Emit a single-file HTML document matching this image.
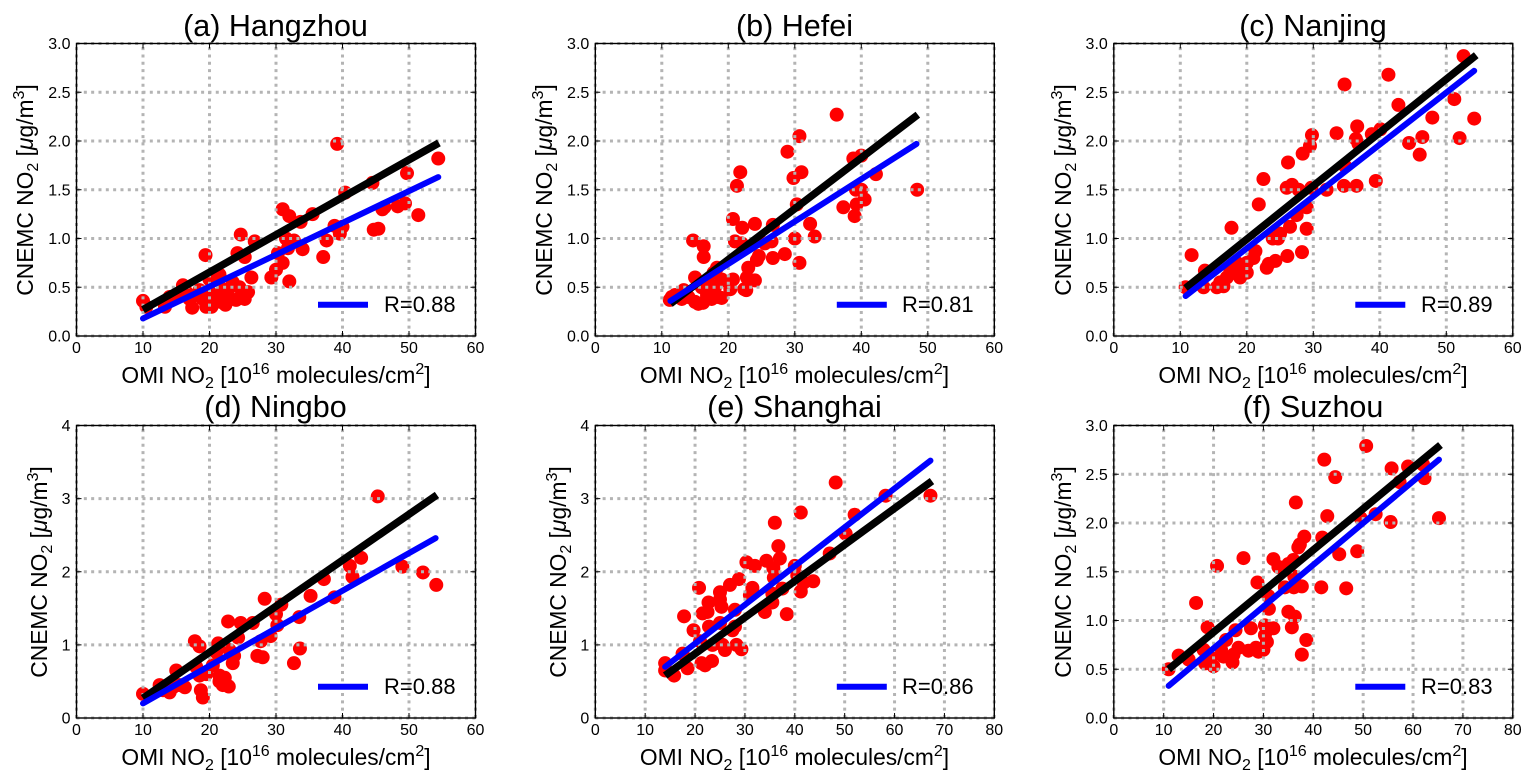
<!DOCTYPE html>
<html lang="en">
<head>
<meta charset="utf-8">
<title>CNEMC NO2 vs OMI NO2 scatter plots</title>
<style>
html,body{margin:0;padding:0;background:#fff;width:1534px;height:782px;overflow:hidden}
svg{display:block;font-family:"Liberation Sans",Arial,sans-serif;fill:#000}
.title{font-size:30.5px;text-anchor:middle}
.axlab{font-size:22.8px;text-anchor:middle}
.legtxt{font-size:22px}
.tick{font-size:16px}
</style>
</head>
<body>
<svg id="figure" width="1534" height="782" viewBox="0 0 1534 782" xmlns="http://www.w3.org/2000/svg">
  <rect width="1534" height="782" fill="#fff"/>

  <g id="panel-a"></g>
  <g id="panel-b"></g>
  <g id="panel-c"></g>
  <g id="panel-d"></g>
  <g id="panel-e"></g>
  <g id="panel-f"></g>

  <text class="title" x="275.5" y="36">(a) Hangzhou</text>
  <text class="title" x="794.5" y="36">(b) Hefei</text>
  <text class="title" x="1313" y="36">(c) Nanjing</text>
  <text class="title" x="275.5" y="417">(d) Ningbo</text>
  <text class="title" x="794.5" y="417">(e) Shanghai</text>
  <text class="title" x="1313" y="417">(f) Suzhou</text>

  <text class="axlab" x="276" y="383">OMI NO<tspan font-size="16" dy="5">2</tspan><tspan dy="-5"> [10</tspan><tspan font-size="16" dy="-9">16</tspan><tspan dy="9"> molecules/cm</tspan><tspan font-size="16" dy="-9">2</tspan><tspan dy="9">]</tspan></text>
  <text class="axlab" x="794.5" y="383">OMI NO<tspan font-size="16" dy="5">2</tspan><tspan dy="-5"> [10</tspan><tspan font-size="16" dy="-9">16</tspan><tspan dy="9"> molecules/cm</tspan><tspan font-size="16" dy="-9">2</tspan><tspan dy="9">]</tspan></text>
  <text class="axlab" x="1313" y="383">OMI NO<tspan font-size="16" dy="5">2</tspan><tspan dy="-5"> [10</tspan><tspan font-size="16" dy="-9">16</tspan><tspan dy="9"> molecules/cm</tspan><tspan font-size="16" dy="-9">2</tspan><tspan dy="9">]</tspan></text>
  <text class="axlab" x="276" y="765">OMI NO<tspan font-size="16" dy="5">2</tspan><tspan dy="-5"> [10</tspan><tspan font-size="16" dy="-9">16</tspan><tspan dy="9"> molecules/cm</tspan><tspan font-size="16" dy="-9">2</tspan><tspan dy="9">]</tspan></text>
  <text class="axlab" x="794.5" y="765">OMI NO<tspan font-size="16" dy="5">2</tspan><tspan dy="-5"> [10</tspan><tspan font-size="16" dy="-9">16</tspan><tspan dy="9"> molecules/cm</tspan><tspan font-size="16" dy="-9">2</tspan><tspan dy="9">]</tspan></text>
  <text class="axlab" x="1313" y="765">OMI NO<tspan font-size="16" dy="5">2</tspan><tspan dy="-5"> [10</tspan><tspan font-size="16" dy="-9">16</tspan><tspan dy="9"> molecules/cm</tspan><tspan font-size="16" dy="-9">2</tspan><tspan dy="9">]</tspan></text>

  <text class="axlab" transform="translate(33,190) rotate(-90)">CNEMC NO<tspan font-size="16" dy="5">2</tspan><tspan dy="-5"> [</tspan><tspan font-style="italic">μ</tspan><tspan>g/m</tspan><tspan font-size="16" dy="-9">3</tspan><tspan dy="9">]</tspan></text>
  <text class="axlab" transform="translate(552,190) rotate(-90)">CNEMC NO<tspan font-size="16" dy="5">2</tspan><tspan dy="-5"> [</tspan><tspan font-style="italic">μ</tspan><tspan>g/m</tspan><tspan font-size="16" dy="-9">3</tspan><tspan dy="9">]</tspan></text>
  <text class="axlab" transform="translate(1071,190) rotate(-90)">CNEMC NO<tspan font-size="16" dy="5">2</tspan><tspan dy="-5"> [</tspan><tspan font-style="italic">μ</tspan><tspan>g/m</tspan><tspan font-size="16" dy="-9">3</tspan><tspan dy="9">]</tspan></text>
  <text class="axlab" transform="translate(47,572) rotate(-90)">CNEMC NO<tspan font-size="16" dy="5">2</tspan><tspan dy="-5"> [</tspan><tspan font-style="italic">μ</tspan><tspan>g/m</tspan><tspan font-size="16" dy="-9">3</tspan><tspan dy="9">]</tspan></text>
  <text class="axlab" transform="translate(566,572) rotate(-90)">CNEMC NO<tspan font-size="16" dy="5">2</tspan><tspan dy="-5"> [</tspan><tspan font-style="italic">μ</tspan><tspan>g/m</tspan><tspan font-size="16" dy="-9">3</tspan><tspan dy="9">]</tspan></text>
  <text class="axlab" transform="translate(1071,572) rotate(-90)">CNEMC NO<tspan font-size="16" dy="5">2</tspan><tspan dy="-5"> [</tspan><tspan font-style="italic">μ</tspan><tspan>g/m</tspan><tspan font-size="16" dy="-9">3</tspan><tspan dy="9">]</tspan></text>

  <text class="legtxt" x="384" y="312">R=0.88</text>
  <text class="legtxt" x="902" y="312">R=0.81</text>
  <text class="legtxt" x="1421" y="312">R=0.89</text>
  <text class="legtxt" x="384" y="694">R=0.88</text>
  <text class="legtxt" x="902" y="694">R=0.86</text>
  <text class="legtxt" x="1421" y="694">R=0.83</text>
</svg>

<script>
var xTicks60 = [0,10,20,30,40,50,60];
var xTicks80 = [0,10,20,30,40,50,60,70,80];
var yTicks3 = [0,0.5,1,1.5,2,2.5,3];
var yTicks4 = [0,1,2,3,4];
var yLabels3 = ['0.0','0.5','1.0','1.5','2.0','2.5','3.0'];
var yLabels4 = ['0','1','2','3','4'];

var hangzhouX = [10,10.5,13.3,14,15,16,16.5,17,17.4,18,18.5,19,19.4,19.5,20,20,20.3,21,21.5,21.7,22,22.4,22.7,23,23.5,24,24.2,24.7,24.5,25,25.3,25.3,25.8,26.3,26.8,29.3,30,30.3,31,31,31.5,31.8,32,32,32.7,33.7,34,35.5,37.1,37.6,38.8,39.2,39.6,40,40.4,44.5,44.7,45.4,46,46.3,48.3,49.4,49.7,51.4,54.4];
var hangzhouY = [0.36,0.3,0.3,0.4,0.42,0.52,0.45,0.38,0.29,0.42,0.47,0.38,0.83,0.3,0.58,0.45,0.3,0.4,0.63,0.35,0.48,0.32,0.45,0.38,0.55,0.37,0.85,1.04,0.5,0.43,0.38,0.81,0.45,0.6,0.97,0.6,0.68,0.85,0.75,1.3,1,0.9,0.56,1.23,0.98,1.17,0.89,1.25,0.81,0.98,1.13,1.97,1.05,1.12,1.47,1.57,1.09,1.1,1.3,1.32,1.33,1.36,1.67,1.24,1.82];
var hangzhouFitX = [10,54.5];
var hangzhouBlackY = [0.27,1.98];
var hangzhouBlueX = [10,54.4];
var hangzhouBlueY = [0.18,1.63];

var hefeiX = [11.2,11.5,12,13,13.3,14,14.7,15,15,15.5,16,16.2,16.3,16.3,16.8,17,17.5,17.8,18,18.3,18.5,19,19,20,20.3,20.7,20.7,21,21.3,21.8,22,22.1,22.4,22.7,22.8,23,24,24,24.3,24.6,25.5,26.5,26.7,26.7,28.5,28.9,29.8,30,30.3,30.7,30.7,31,32.3,33,36.3,37.3,38.8,39,39.2,39.3,40,40,40.5,42.2,48.4];
var hefeiY = [0.37,0.4,0.42,0.38,0.47,0.4,0.98,0.6,0.35,0.33,0.5,0.34,0.92,0.81,0.42,0.55,0.38,0.65,0.5,0.7,0.4,0.58,0.39,0.55,0.48,0.58,1.2,0.97,1.54,1.68,0.95,1.11,0.48,0.47,0.6,0.7,1.15,0.57,0.78,0.82,0.95,0.97,0.8,1.14,0.84,1.89,1.62,1,1.35,2.05,0.75,1.68,1.15,1.02,2.27,1.32,1.82,1.23,1.5,1.35,1.85,1.5,1.4,1.66,1.5];
var hefeiFitX = [11.3,48.5];
var hefeiBlackY = [0.33,2.27];
var hefeiBlueX = [11.3,48.3];
var hefeiBlueY = [0.36,1.97];

var nanjingX = [10.8,11.7,13.5,13.7,15.5,16,16.5,17,17.5,17.7,18,18.5,19,19.5,20,20,21,21.3,21.8,22.5,23,23.3,24.3,23.9,24.7,25,26.1,26,26.2,26.5,26.8,27.5,27.8,28.3,28.4,29,29,29.5,29.8,29.7,32,33.5,34.6,34.7,34.8,36.5,36.4,36.6,36.8,38.8,39.4,40.1,41.3,42.8,44.4,46,46.4,47.9,51.2,52,52.6,54.2];
var nanjingY = [0.5,0.83,0.5,0.67,0.5,0.55,0.51,0.6,0.65,1.11,0.7,0.75,0.6,0.65,0.75,0.65,0.8,0.87,1.35,1.61,0.7,0.74,0.77,1,1,1.05,0.82,1.52,1.78,1.12,1.55,1.24,1.5,0.86,1.87,1.32,1.1,1.95,2.06,1.52,1.5,2.08,1.54,2.58,1.74,1.54,2.02,2.15,1.97,2.07,1.59,2.12,2.68,2.37,1.98,1.86,2.04,2.24,2.43,2.03,2.87,2.23];
var nanjingFitX = [10.8,54.5];
var nanjingBlackY = [0.49,2.88];
var nanjingBlueX = [10.8,54.2];
var nanjingBlueY = [0.41,2.72];

var ningboX = [10,12.5,13,14,14.5,15,15.5,16.3,17.8,18,18.5,18.5,18.7,19,19.5,20.5,21,21.3,21.5,21.5,22,22.3,22.8,22.9,23,23.5,23.7,24.3,24.7,26.5,27.2,27.7,28,28.3,29.2,30,30.2,30.8,32.7,33.5,33.6,35.2,37.2,38.8,41.1,41.5,42.8,45.3,49,52.1,54.1];
var ningboY = [0.33,0.45,0.38,0.35,0.42,0.65,0.45,0.42,1.05,0.7,0.98,0.58,0.38,0.28,0.6,0.72,0.9,1.02,0.58,0.5,0.45,0.55,1.32,0.43,0.93,0.75,0.85,1.1,1.3,1.3,0.85,1.05,0.83,1.63,1.12,1.42,1.27,1.55,0.75,1.38,0.95,1.67,1.9,1.65,2.08,1.93,2.19,3.03,2.07,1.99,1.82];
var ningboFitX = [10,54.2];
var ningboBlackY = [0.27,3.05];
var ningboBlueX = [10,54];
var ningboBlueY = [0.2,2.46];

var shanghaiX = [14,14,15.8,17.5,18.5,17.8,19.7,20.8,21,21.3,21.5,22,22.5,22.7,22.8,23.4,23.5,25,25,25,25.3,25.5,26,27,27.5,28,28,28.3,28.8,29.3,30.3,31,31.5,32,34,34.3,35.5,35.5,35.7,35.8,36,36.7,37,37.5,38.4,40,40.5,41.2,41.2,41.8,43.7,47,48.2,50.2,52,58.2,67.2];
var shanghaiY = [0.75,0.65,0.58,0.88,0.68,1.39,1.2,1.78,1.05,0.75,1.43,0.72,1.45,1.58,1.25,0.78,1,1.3,1.72,1.62,1.52,1,0.93,1.82,1.2,1.48,1.25,1,1.9,0.94,2.13,1.68,1.78,2.08,1.45,2.15,1.7,1.58,2.05,1.92,2.67,2.35,2.18,1.77,1.42,2.08,1.95,2.81,1.73,1.85,1.87,2.25,3.22,2.52,2.78,3.04,3.04];
var shanghaiFitX = [14,67.5];
var shanghaiBlackY = [0.58,3.24];
var shanghaiBlueX = [14,67.2];
var shanghaiBlueY = [0.7,3.52];

var suzhouX = [11,13,15,16.5,18,18.3,18.8,19.5,20,20.7,21.5,22,22.5,23.5,23.8,24,24.4,25,26,27,27.5,28.5,28.8,29,30,30.3,30.3,30.7,31,31.1,32,32,33,34.3,35,35,35.7,36,36.1,36.3,36.2,36.5,37,37.3,37.7,37.7,38.2,38.6,41.6,41.8,42.2,42.8,44.4,45.2,46.6,48.8,49.5,50.6,52.5,55.5,55.7,57.3,59,62,62.3,65.2];
var suzhouY = [0.5,0.64,0.6,1.18,0.7,0.56,0.93,0.62,0.53,1.56,0.7,0.63,0.8,0.62,0.57,0.65,0.9,0.72,1.64,0.69,0.92,0.72,1.39,0.68,0.7,0.95,0.85,0.78,1.25,1.12,0.92,1.63,1.55,1.34,1.58,1.09,0.93,1.62,1.34,1.04,1.45,2.21,1.75,1.78,1.35,0.65,1.86,0.8,1.34,1.85,2.65,2.07,2.47,1.68,1.33,1.71,2.05,2.79,2.09,2.01,2.56,2.42,2.58,2.6,2.46,2.05];
var suzhouFitX = [11,65.5];
var suzhouBlackY = [0.5,2.8];
var suzhouBlueX = [11,65.2];
var suzhouBlueY = [0.33,2.65];

var NS = 'http://www.w3.org/2000/svg';

function make(tag, attrs, parent) {
  var el = document.createElementNS(NS, tag);
  for (var k in attrs) el.setAttribute(k, attrs[k]);
  parent.appendChild(el);
  return el;
}

function drawPanel(cfg) {
  var g = document.getElementById(cfg.id);
  var L = cfg.left, R = cfg.left + 399, T = cfg.top, B = cfg.top + 292.5;
  var xMax = cfg.xTicks[cfg.xTicks.length - 1];
  var yMax = cfg.yTicks[cfg.yTicks.length - 1];
  function sx(v) { return L + v / xMax * (R - L); }
  function sy(v) { return B - v / yMax * (B - T); }

  cfg.x.forEach(function (v, i) {
    var c = make('circle', {cx: sx(v), cy: sy(cfg.y[i]), r: 7, fill: '#ff0000'}, g);
    
    
  });

  cfg.xTicks.forEach(function (t) {
    var l = make('line', {x1: sx(t), x2: sx(t), y1: B, y2: T, stroke: '#b4b4b4', 'stroke-width': 3, 'stroke-dasharray': '3 4.33'}, g);
    
    
  });
  cfg.yTicks.forEach(function (t) {
    var l = make('line', {x1: L, x2: R, y1: sy(t), y2: sy(t), stroke: '#b4b4b4', 'stroke-width': 3, 'stroke-dasharray': '3 4.33'}, g);
    
    
  });

  var black = make('line', {x1: sx(cfg.fitX[0]), x2: sx(cfg.fitX[1]), y1: sy(cfg.blackY[0]), y2: sy(cfg.blackY[1]), stroke: '#000', 'stroke-width': 7.5}, g);
  
  

  var blue = make('line', {x1: sx(cfg.blueX[0]), x2: sx(cfg.blueX[1]), y1: sy(cfg.blueY[0]), y2: sy(cfg.blueY[1]), stroke: '#0000ff', 'stroke-width': 6, 'stroke-linecap': 'round'}, g);
  
  

  var frame = make('rect', {x: L, y: T, width: R - L, height: B - T, fill: 'none', stroke: '#000', 'stroke-width': 1.4}, g);
  
  

  cfg.xTicks.forEach(function (t) {
    var b = make('line', {x1: sx(t), x2: sx(t), y1: B, y2: B - 5, stroke: '#000', 'stroke-width': 1}, g);
    
    
    var u = make('line', {x1: sx(t), x2: sx(t), y1: T, y2: T + 5, stroke: '#000', 'stroke-width': 1}, g);
    
    
    var lab = make('text', {x: sx(t), y: B + 17, 'text-anchor': 'middle', 'class': 'tick'}, g);
    
    
    lab.textContent = String(t);
  });
  cfg.yTicks.forEach(function (t, i) {
    var a = make('line', {x1: L, x2: L + 5, y1: sy(t), y2: sy(t), stroke: '#000', 'stroke-width': 1}, g);
    
    
    var r = make('line', {x1: R, x2: R - 5, y1: sy(t), y2: sy(t), stroke: '#000', 'stroke-width': 1}, g);
    
    
    var lab = make('text', {x: L - 6, y: sy(t) + 5.5, 'text-anchor': 'end', 'class': 'tick'}, g);
    
    
    lab.textContent = cfg.yLabels[i];
  });

  var key = make('line', {x1: L + 241.5, x2: L + 291.5, y1: B - 31.3, y2: B - 31.3, stroke: '#0000ff', 'stroke-width': 6}, g);
  
  
}

drawPanel({id:'panel-a', left:76.5, top:43.5, xTicks:xTicks60, yTicks:yTicks3, yLabels:yLabels3, x:hangzhouX, y:hangzhouY, fitX:hangzhouFitX, blackY:hangzhouBlackY, blueX:hangzhouBlueX, blueY:hangzhouBlueY});
drawPanel({id:'panel-b', left:595.3, top:43.5, xTicks:xTicks60, yTicks:yTicks3, yLabels:yLabels3, x:hefeiX, y:hefeiY, fitX:hefeiFitX, blackY:hefeiBlackY, blueX:hefeiBlueX, blueY:hefeiBlueY});
drawPanel({id:'panel-c', left:1113.8, top:43.5, xTicks:xTicks60, yTicks:yTicks3, yLabels:yLabels3, x:nanjingX, y:nanjingY, fitX:nanjingFitX, blackY:nanjingBlackY, blueX:nanjingBlueX, blueY:nanjingBlueY});
drawPanel({id:'panel-d', left:76.5, top:425.5, xTicks:xTicks60, yTicks:yTicks4, yLabels:yLabels4, x:ningboX, y:ningboY, fitX:ningboFitX, blackY:ningboBlackY, blueX:ningboBlueX, blueY:ningboBlueY});
drawPanel({id:'panel-e', left:595.3, top:425.5, xTicks:xTicks80, yTicks:yTicks4, yLabels:yLabels4, x:shanghaiX, y:shanghaiY, fitX:shanghaiFitX, blackY:shanghaiBlackY, blueX:shanghaiBlueX, blueY:shanghaiBlueY});
drawPanel({id:'panel-f', left:1113.8, top:425.5, xTicks:xTicks80, yTicks:yTicks3, yLabels:yLabels3, x:suzhouX, y:suzhouY, fitX:suzhouFitX, blackY:suzhouBlackY, blueX:suzhouBlueX, blueY:suzhouBlueY});
</script>
</body>
</html>
